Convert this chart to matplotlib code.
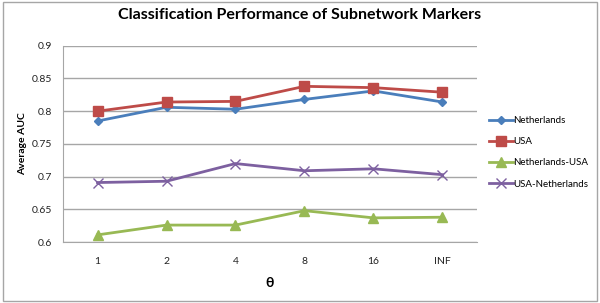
import matplotlib.pyplot as plt
from matplotlib.patches import Rectangle

plt.rcParams['font.family'] = ['Lato', 'DejaVu Sans']

# data
thetas = ['1', '2', '4', '8', '16', 'INF']
netherlands = [0.785, 0.806, 0.803, 0.818, 0.831, 0.814]
usa = [0.800, 0.814, 0.815, 0.838, 0.836, 0.829]
nl_usa = [0.611, 0.626, 0.626, 0.648, 0.637, 0.638]
usa_nl = [0.691, 0.693, 0.720, 0.709, 0.712, 0.703]

fig = plt.figure(figsize=(6, 3.03), dpi=100)
fig.patches.append(Rectangle((0.005, 0.008), 0.99, 0.984, transform=fig.transFigure,
                             fill=False, edgecolor='#a6a6a6', linewidth=1))
ax = fig.add_axes([0.105, 0.201, 0.69, 0.648])

x = range(len(thetas))
ax.plot(x, netherlands, color='#4a7ebb', marker='D', markersize=4.5, linewidth=2, label='Netherlands')
ax.plot(x, usa, color='#be4b48', marker='s', markersize=7, linewidth=2, label='USA')
ax.plot(x, nl_usa, color='#98b954', marker='^', markersize=7, linewidth=2, label='Netherlands-USA')
ax.plot(x, usa_nl, color='#7d60a0', marker='x', markersize=7, markeredgewidth=1, linewidth=2, label='USA-Netherlands')

ax.set_xlim(-0.5, len(thetas) - 0.5)
ax.set_ylim(0.6, 0.9)
ax.set_yticks([0.6, 0.65, 0.7, 0.75, 0.8, 0.85, 0.9])
ax.set_yticklabels(['0.6', '0.65', '0.7', '0.75', '0.8', '0.85', '0.9'])
ax.set_xticks(list(x))
ax.set_xticklabels(thetas)
ax.tick_params(axis='both', length=0, labelsize=7.5, colors='#222222')
ax.tick_params(axis='x', pad=11)
ax.tick_params(axis='y', pad=8)
ax.grid(axis='y', color='#a6a6a6', linewidth=1)
ax.set_axisbelow(True)
for s in ['top', 'right']:
    ax.spines[s].set_visible(False)
for s in ['left', 'bottom']:
    ax.spines[s].set_color('#a6a6a6')

ax.set_xlabel('θ', fontsize=10, fontweight='bold', labelpad=8)
ax.set_ylabel('Average AUC', fontsize=7.5, fontweight='bold', labelpad=3)
fig.suptitle('Classification Performance of Subnetwork Markers', fontsize=11.5,
             fontweight='bold', y=0.975)

ax.legend(loc='center left', bbox_to_anchor=(1.02, 0.457), frameon=False, fontsize=7,
          handlelength=2.4, handletextpad=0.1, labelspacing=1.25, borderaxespad=0)

fig.savefig('out.png', dpi=100)
